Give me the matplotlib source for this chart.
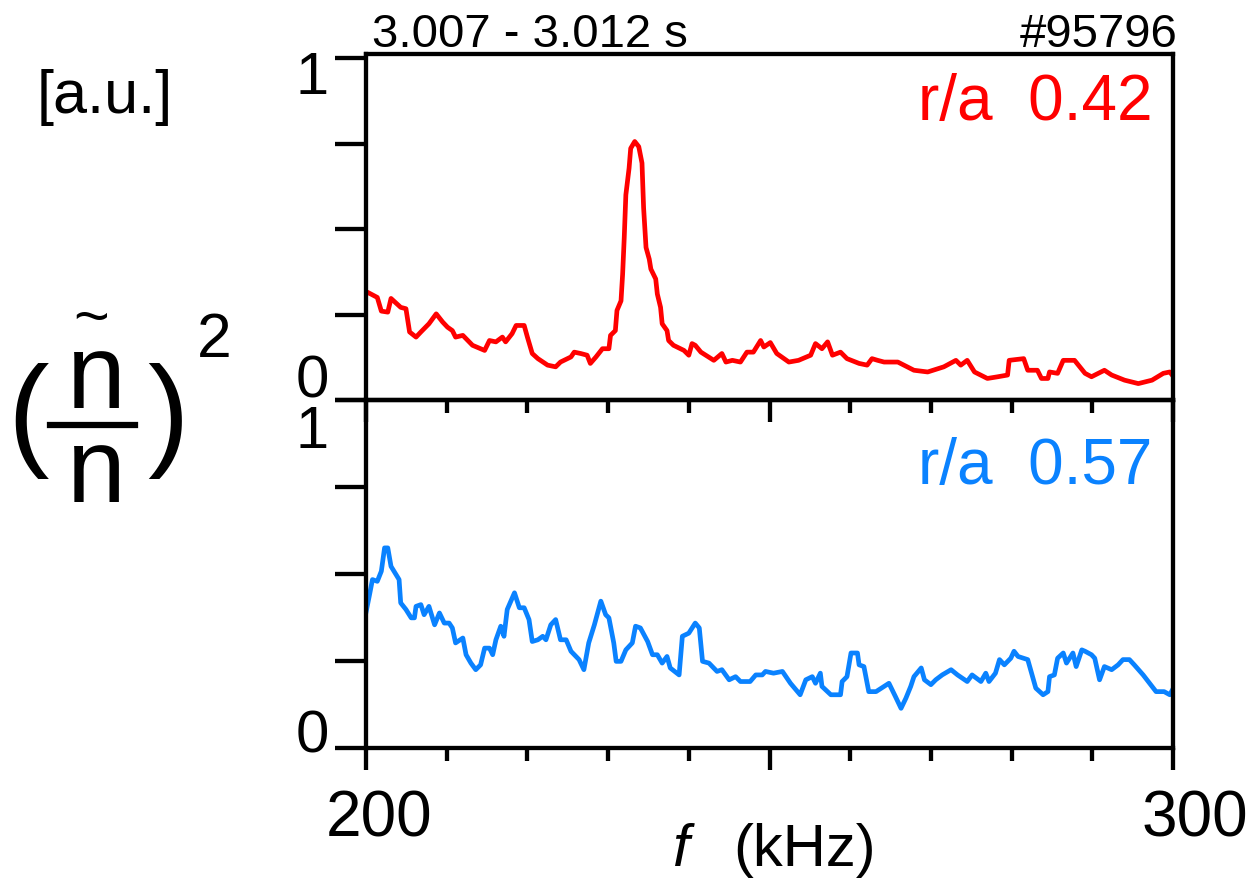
import numpy as np
import matplotlib
matplotlib.use("Agg")
import matplotlib.pyplot as plt
from matplotlib.lines import Line2D
from matplotlib.transforms import ScaledTranslation

plt.rcParams['font.family'] = ['Liberation Sans', 'DejaVu Sans']

# spectra: f in kHz, power in a.u.
red_f = [200.0, 200.2, 201.4, 201.9, 202.7, 203.1, 204.3, 204.95, 205.4, 206.2, 206.8, 207.8,
         208.7, 209.5, 210.1, 210.7, 211.1, 212.0, 213.2, 214.7, 215.3, 216.1, 216.9, 217.3,
         218.1, 218.6, 219.6, 220.0, 220.6, 221.3, 222.5, 223.5, 224.1, 225.4, 225.8, 226.6,
         227.4, 227.8, 228.5, 229.3, 230.1, 230.3, 230.9, 231.1, 231.6, 231.8, 232.0, 232.2,
         232.6, 232.8, 233.3, 233.8, 234.2, 234.4, 234.7, 235.1, 235.3, 235.9, 236.1, 236.5,
         236.7, 237.3, 237.5, 238.1, 239.4, 240.0, 240.4, 240.8, 241.5, 243.1, 244.1, 244.6,
         245.4, 246.4, 247.2, 248.0, 248.9, 249.3, 250.1, 250.9, 252.4, 253.6, 255.1, 255.7,
         256.5, 257.2, 257.8, 258.8, 259.6, 261.1, 262.1, 262.7, 263.4, 264.2, 265.9, 267.9,
         269.6, 271.6, 273.1, 273.7, 274.5, 275.4, 277.0, 278.3, 279.5, 279.7, 281.5, 282.0,
         283.2, 283.7, 284.5, 284.7, 285.7, 286.4, 287.8, 289.1, 289.9, 291.5, 292.4, 294.0,
         295.7, 297.4, 298.8, 299.6, 300.0]
red_v = [0.31, 0.315, 0.30, 0.26, 0.257, 0.297, 0.271, 0.267, 0.199, 0.184, 0.199, 0.223,
         0.252, 0.228, 0.213, 0.203, 0.184, 0.189, 0.16, 0.145, 0.174, 0.17, 0.184, 0.17,
         0.194, 0.218, 0.218, 0.184, 0.136, 0.121, 0.102, 0.097, 0.111, 0.126, 0.14, 0.136,
         0.131, 0.107, 0.126, 0.15, 0.15, 0.189, 0.203, 0.262, 0.29, 0.368, 0.475, 0.60,
         0.678, 0.736, 0.756, 0.741, 0.693, 0.562, 0.446, 0.412, 0.383, 0.354, 0.31, 0.271,
         0.223, 0.203, 0.174, 0.16, 0.145, 0.131, 0.165, 0.16, 0.14, 0.116, 0.136, 0.111,
         0.116, 0.111, 0.14, 0.14, 0.174, 0.155, 0.168, 0.136, 0.111, 0.116, 0.131, 0.165,
         0.15, 0.17, 0.131, 0.14, 0.121, 0.107, 0.102, 0.121, 0.116, 0.111, 0.111, 0.087,
         0.082, 0.097, 0.116, 0.102, 0.116, 0.082, 0.063, 0.068, 0.073, 0.116, 0.121, 0.087,
         0.087, 0.063, 0.063, 0.082, 0.078, 0.116, 0.116, 0.078, 0.068, 0.087, 0.073, 0.058,
         0.048, 0.058, 0.078, 0.082, 0.07]

blue_f = [200.0, 200.4, 200.8, 201.4, 201.9, 202.3, 202.7, 203.1, 203.7, 204.1, 204.3, 204.95,
          205.6, 206.0, 206.2, 206.8, 207.2, 207.8, 208.5, 209.1, 209.7, 210.3, 210.7, 211.1,
          212.0, 212.4, 213.0, 213.6, 214.2, 214.7, 215.3, 215.7, 216.1, 216.7, 217.1, 217.5,
          218.4, 219.0, 219.6, 220.2, 220.6, 221.3, 221.9, 222.3, 222.9, 223.5, 224.1, 224.8,
          225.4, 226.4, 227.0, 227.6, 228.3, 229.1, 229.7, 230.1, 230.7, 231.0, 231.6, 232.2,
          233.0, 233.4, 234.0, 234.9, 235.5, 236.1, 236.7, 237.3, 237.7, 238.8, 239.2, 240.0,
          240.8, 241.3, 241.7, 242.5, 243.5, 244.1, 245.0, 245.8, 246.4, 247.6, 248.3, 249.1,
          249.5, 250.5, 251.6, 252.6, 253.8, 254.5, 255.3, 255.7, 256.3, 256.5, 257.6, 258.8,
          259.0, 259.6, 260.1, 260.9, 261.1, 261.7, 262.3, 263.2, 264.2, 264.8, 265.6, 266.3,
          266.9, 267.5, 267.9, 268.8, 269.2, 270.0, 270.6, 271.4, 272.5, 273.3, 274.5, 275.1,
          276.2, 276.8, 277.2, 278.0, 278.5, 279.1, 279.9, 280.3, 280.8, 282.0, 282.6, 283.0,
          283.9, 284.5, 284.7, 285.3, 285.7, 286.4, 286.8, 287.6, 288.0, 288.7, 289.1, 289.9,
          290.3, 290.9, 291.5, 292.4, 293.2, 293.8, 294.6, 295.2, 296.3, 297.1, 297.9, 298.9,
          299.6, 300.0]
blue_v = [0.39, 0.436, 0.484, 0.479, 0.508, 0.575, 0.575, 0.522, 0.499, 0.484, 0.417, 0.398,
          0.374, 0.374, 0.407, 0.412, 0.383, 0.407, 0.354, 0.388, 0.359, 0.359, 0.345, 0.302,
          0.316, 0.268, 0.244, 0.225, 0.239, 0.287, 0.287, 0.268, 0.311, 0.35, 0.321, 0.398,
          0.446, 0.403, 0.403, 0.369, 0.306, 0.311, 0.321, 0.311, 0.354, 0.369, 0.311, 0.311,
          0.278, 0.254, 0.225, 0.302, 0.354, 0.422, 0.383, 0.374, 0.302, 0.249, 0.249, 0.282,
          0.302, 0.35, 0.345, 0.306, 0.268, 0.268, 0.244, 0.263, 0.23, 0.21, 0.321, 0.33,
          0.359, 0.345, 0.249, 0.244, 0.22, 0.225, 0.196, 0.205, 0.191, 0.191, 0.21, 0.21,
          0.22, 0.215, 0.22, 0.186, 0.153, 0.196, 0.205, 0.186, 0.215, 0.177, 0.153, 0.153,
          0.191, 0.205, 0.273, 0.273, 0.239, 0.234, 0.162, 0.162, 0.177, 0.186, 0.148, 0.114,
          0.143, 0.177, 0.205, 0.23, 0.196, 0.182, 0.196, 0.21, 0.225, 0.21, 0.191, 0.21,
          0.191, 0.215, 0.191, 0.215, 0.254, 0.239, 0.258, 0.278, 0.263, 0.254, 0.205, 0.172,
          0.153, 0.162, 0.205, 0.21, 0.258, 0.273, 0.244, 0.273, 0.234, 0.282, 0.278, 0.268,
          0.258, 0.196, 0.234, 0.225, 0.239, 0.254, 0.254, 0.239, 0.21, 0.186, 0.162, 0.162,
          0.153, 0.17]

y_ticks = [0, 0.25, 0.5, 0.75, 1]
y_labels = ['0', '', '', '', '1']
x_major = [200, 250, 300]
x_labels = ['200', '', '300']
x_minor = np.arange(200, 301, 10)

W, H = 1251, 880
fig = plt.figure(figsize=(W / 100, H / 100), dpi=100)


def fx(x):
    return x / W


def fy(y):
    return 1 - y / H


ax1 = fig.add_axes([fx(366), fy(400), 807 / W, 346 / H])
ax2 = fig.add_axes([fx(366), fy(748), 807 / W, 348 / H])

ax1.plot(red_f, red_v, color='#ff0000', lw=3.4, solid_joinstyle='round')
ax2.plot(blue_f, blue_v, color='#0a82ff', lw=3.4, solid_joinstyle='round')

for ax in (ax1, ax2):
    ax.set_facecolor('none')
    ax.set_xlim(200, 300)
    for s in ax.spines.values():
        s.set_linewidth(3.1)
    ax.set_yticks(y_ticks)
    ax.set_yticklabels(y_labels)
    ax.set_xticks(x_major)
    ax.set_xticks(x_minor, minor=True)
    ax.tick_params(axis='y', direction='out', length=22, width=3.1, labelsize=43, pad=5)
    ax.tick_params(axis='x', which='major', direction='out', length=16, width=3.1, labelsize=46, pad=14)
    ax.tick_params(axis='x', which='minor', direction='out', length=9, width=3.1)

ax1.set_ylim(0, 1.012)
ax2.set_ylim(0, 1.0)
ax1.set_xticklabels(['', '', ''])
ax2.set_xticklabels(x_labels)


def shift(label, dx, dy):
    label.set_transform(label.get_transform() + ScaledTranslation(dx / 100, dy / 100, fig.dpi_scale_trans))


yl1 = ax1.get_yticklabels()
shift(yl1[0], 0, 24)
shift(yl1[4], 0, -14)
yl2 = ax2.get_yticklabels()
shift(yl2[0], 0, 17)
shift(yl2[4], 0, -26)
xl2 = ax2.get_xticklabels()
shift(xl2[0], 13, 0)
shift(xl2[2], 22, 0)

ax1.text(0.975, 0.81, 'r/a  0.42', color='#ff0000', fontsize=46, ha='right', va='baseline',
         transform=ax1.transAxes)
ax2.text(0.975, 0.76, 'r/a  0.57', color='#0a82ff', fontsize=46, ha='right', va='baseline',
         transform=ax2.transAxes)

fig.text(fx(372), fy(47), '3.007 - 3.012 s', fontsize=34, ha='left', va='baseline')
fig.text(fx(1178), fy(47), '#95796', fontsize=34, ha='right', va='baseline')

# x label
fig.text(fx(690), fy(866), 'f', fontsize=43, style='italic', ha='right', va='baseline')
fig.text(fx(733), fy(866), '(kHz)', fontsize=43, ha='left', va='baseline')

# y label: [a.u.] and (n~/n)^2
fig.text(fx(37), fy(113), '[a.u.]', fontsize=44, ha='left', va='baseline')
fig.text(fx(28), fy(453), '(', fontsize=90, ha='center', va='baseline')
fig.text(fx(168), fy(453), ')', fontsize=90, ha='center', va='baseline')
fig.text(fx(96), fy(408), 'n', fontsize=76, ha='center', va='baseline')
fig.text(fx(91), fy(337), '~', fontsize=44, ha='center', va='baseline')
fig.text(fx(96), fy(502), 'n', fontsize=76, ha='center', va='baseline')
fig.text(fx(214), fy(357), '2', fontsize=45, ha='center', va='baseline')
fig.add_artist(Line2D([fx(50), fx(135)], [fy(425), fy(425)], transform=fig.transFigure,
                      color='black', lw=4.5))

fig.savefig('out.png', dpi=100)
